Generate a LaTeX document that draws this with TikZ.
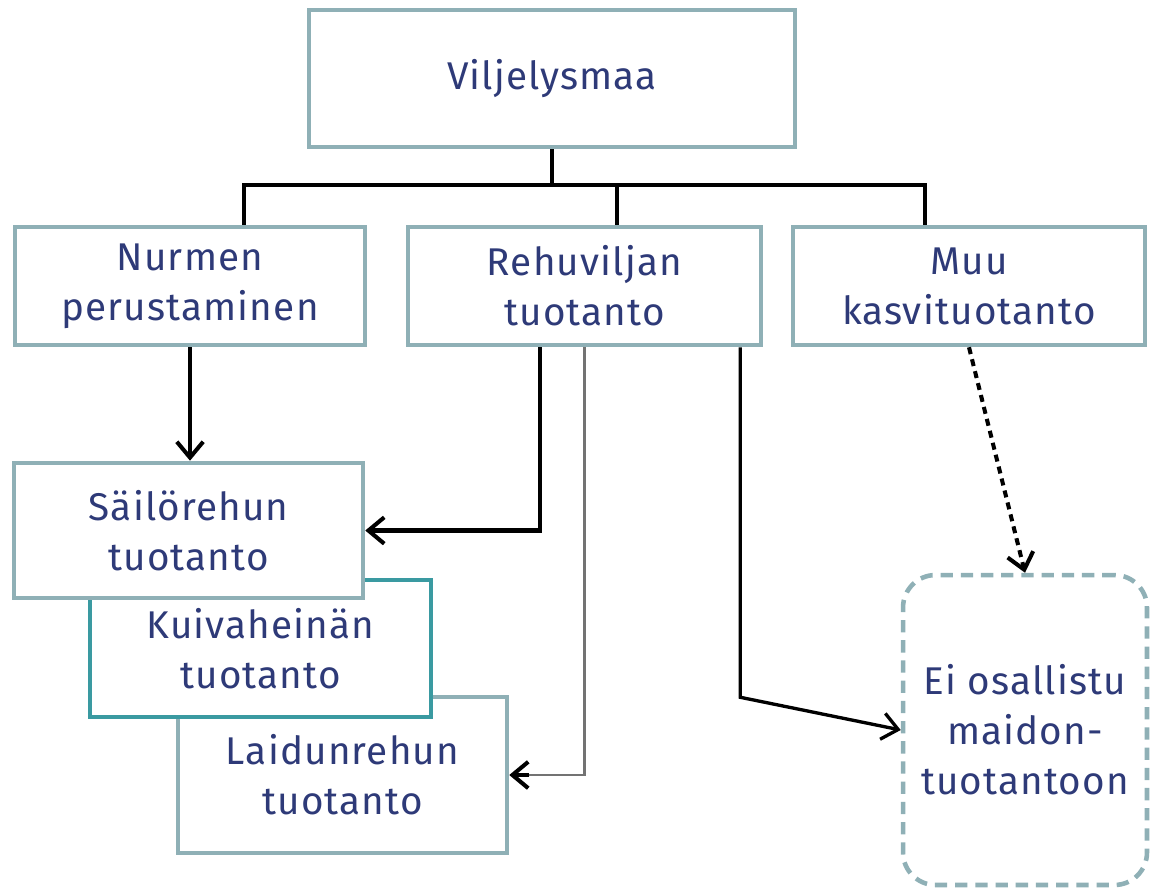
\documentclass[tikz,border=0pt]{standalone}
\usepackage{fontspec}
\setmainfont{Fira Sans}[LetterSpace=3]
\usetikzlibrary{arrows.meta}

\definecolor{reuna}{HTML}{8FB0B6}
\definecolor{tumma}{HTML}{3A9AA1}
\definecolor{teksti}{HTML}{2E3A78}

\begin{document}
\begin{tikzpicture}[x=0.02cm, y=-0.02cm,
    laatikko/.style = {draw=reuna, line width=2.6pt, fill=white, align=center,
        inner sep=0pt, text=teksti, font=\fontsize{22}{28.5}\selectfont},
    haara/.style = {line width=2.8pt, black},
    nuoli/.style = {line width=2.3pt, black, -{Straight Barb[length=9pt,width=15pt]}}]
        \useasboundingbox (0,0) rectangle (1153,890);

        \node [laatikko, minimum width=9.72cm, minimum height=2.74cm] (maa) at (552,78.5) {Viljelysmaa};
        \node [laatikko, minimum width=7cm, minimum height=2.36cm] (nurmi) at (190,286) {Nurmen\\perustaminen};
        \node [laatikko, minimum width=7.06cm, minimum height=2.36cm] (vilja) at (584.5,286) {Rehuviljan\\tuotanto};
        \node [laatikko, minimum width=7.04cm, minimum height=2.36cm] (muu) at (969,286) {Muu\\kasvituotanto};

        \node [laatikko, minimum width=6.58cm, minimum height=3.12cm] (laidun) at (342.5,775) {Laidunrehun\\tuotanto};
        \node [laatikko, draw=tumma, minimum width=6.82cm, minimum height=2.74cm] (kuiva) at (260.5,648.5) {Kuivaheinän\\tuotanto};
        \node [laatikko, minimum width=6.98cm, minimum height=2.7cm] (sailo) at (188.5,530.5) {Säilörehun\\tuotanto};
        \node [laatikko, dashed, dash pattern=on 7pt off 4.5pt, rounded corners=0.65cm,
            minimum width=4.88cm, minimum height=6.2cm] (ei) at (1025,730) {Ei osallistu\\maidon-\\tuotantoon};

        \coordinate (h1) at (244,185);
        \coordinate (h2) at (617,185);
        \coordinate (h3) at (925,185);

        \draw [haara] (maa.south) -- (maa.south |- h1);
        \draw [haara] (h1 |- nurmi.north) -- (h1) -- (h3) -- (h3 |- muu.north);
        \draw [haara] (h2) -- (h2 |- vilja.north);

        \draw [nuoli] (nurmi.south) -- (nurmi.south |- sailo.north);
        \draw [nuoli] ([xshift=-0.89cm]vilja.south) |- (sailo.east);
        \draw [line width=1.2pt, black!55] (vilja.south) |- ([xshift=0.4cm]laidun.east);
        \draw [nuoli] ([xshift=0.4cm]laidun.east) -- (laidun.east);
        \draw [nuoli, line width=1.9pt] ([xshift=-0.46cm]vilja.south east) -- ++(0,350) -- (ei.west);
        \draw [nuoli, dashed, dash pattern=on 4pt off 3pt] (muu.south) -- (ei.north);
    \end{tikzpicture}
\end{document}
